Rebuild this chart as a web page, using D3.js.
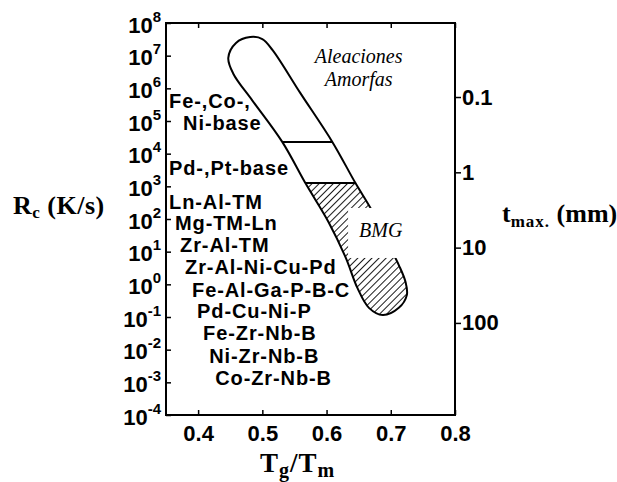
<!DOCTYPE html>
<html>
<head>
<meta charset="utf-8">
<title>Rc vs Tg/Tm</title>
<script src="https://d3js.org/d3.v7.min.js"></script>
<style>
    html, body {
        margin: 0;
        padding: 0;
        background: #fff;
    }
    svg {
        display: block;
    }
    .sans {
        font-family: 'Liberation Sans', Arial, sans-serif;
        font-weight: bold;
    }
    .serif {
        font-family: 'Liberation Serif', 'Times New Roman', serif;
    }
</style>
</head>
<body>
<svg id="chart" width="617" height="482"></svg>
<script>
// outline of the glass-forming band (Tg/Tm, log10 Rc), clockwise from the top
const outlineTg = [0.481, 0.500, 0.516, 0.559, 0.609, 0.645, 0.672, 0.697, 0.7125, 0.723, 0.725, 0.7125,
    0.6875, 0.666, 0.648, 0.630, 0.603, 0.567, 0.531, 0.484, 0.455, 0.447, 0.459];
const outlineLogRc = [7.57, 7.51, 7.17, 5.86, 4.36, 3.10, 2.21, 1.20, 0.59, 0.07, -0.33, -0.72,
    -0.94, -0.72, -0.11, 0.81, 1.91, 3.10, 4.36, 5.64, 6.44, 6.93, 7.39];
// boundaries between the families (log10 Rc); below the last one the band is hatched (BMG)
const dividerLogRc = [4.36, 3.10];

const xTicks = [0.4, 0.5, 0.6, 0.7, 0.8];
const rcExponents = [-4, -3, -2, -1, 0, 1, 2, 3, 4, 5, 6, 7, 8];
const tTicks = [0.1, 1, 10, 100];
const tDomain = [0.0104, 1670];

const alloyNames = ['Fe-,Co-,', 'Ni-base', 'Pd-,Pt-base', 'Ln-Al-TM', 'Mg-TM-Ln', 'Zr-Al-TM',
    'Zr-Al-Ni-Cu-Pd', 'Fe-Al-Ga-P-B-C', 'Pd-Cu-Ni-P', 'Fe-Zr-Nb-B', 'Ni-Zr-Nb-B', 'Co-Zr-Nb-B'];
const alloyTg = [0.3547, 0.3766, 0.3547, 0.3547, 0.364, 0.3719, 0.3797, 0.3906, 0.3984, 0.4078, 0.4172, 0.4266];
const alloyLogRc = [5.40, 4.725, 3.35, 2.31, 1.664, 0.99, 0.317, -0.387, -1.03, -1.70, -2.41, -3.08];

const margin = {top: 23, right: 162, bottom: 67, left: 166};
const width = 617, height = 482;
const svg = d3.select('#chart');

const x = d3.scaleLinear()
    .domain([0.35, 0.8])
    .range([margin.left, width - margin.right]);
const y = d3.scaleLog()
    .domain([1e-4, 1e8])
    .range([height - margin.bottom, margin.top]);
const yT = d3.scaleLog()
    .domain(tDomain)
    .range([margin.top, height - margin.bottom]);
const x0 = x.range()[0], x1 = x.range()[1];
const y0 = y.range()[0], y1 = y.range()[1];

// hatch pattern
const defs = svg.append('defs');
defs.append('pattern')
    .attr('id', 'hatch')
    .attr('patternUnits', 'userSpaceOnUse')
    .attr('width', 5)
    .attr('height', 5)
    .attr('patternTransform', 'rotate(45)')
    .append('line')
    .attr('x1', 0).attr('y1', 0)
    .attr('x2', 0).attr('y2', 5)
    .attr('stroke', '#000')
    .attr('stroke-width', 1.8);

const outline = outlineTg.map((t, i) => [t, outlineLogRc[i]]);
const bandLine = d3.line()
    .x(d => x(d[0]))
    .y(d => y(Math.pow(10, d[1])))
    .curve(d3.curveCatmullRomClosed.alpha(0.5));

defs.append('clipPath')
    .attr('id', 'band')
    .append('path')
    .attr('d', bandLine(outline));

const gBand = svg.append('g').attr('clip-path', 'url(#band)');
gBand.append('rect')
    .attr('x', x0)
    .attr('width', x1 - x0)
    .attr('y', y(Math.pow(10, d3.min(dividerLogRc))))
    .attr('height', y0 - y(Math.pow(10, d3.min(dividerLogRc))))
    .attr('fill', 'url(#hatch)');
gBand.selectAll('line.divider')
    .data(dividerLogRc)
    .join('line')
    .attr('class', 'divider')
    .attr('x1', x0)
    .attr('x2', x1)
    .attr('y1', d => y(Math.pow(10, d)))
    .attr('y2', d => y(Math.pow(10, d)))
    .attr('stroke', '#000')
    .attr('stroke-width', 2);

svg.append('path')
    .attr('d', bandLine(outline))
    .attr('fill', 'none')
    .attr('stroke', '#000')
    .attr('stroke-width', 2);

// BMG label on a white box
const bmg = svg.append('text')
    .attr('class', 'serif')
    .attr('x', x(0.6844))
    .attr('y', y(Math.pow(10, 1.45)))
    .attr('text-anchor', 'middle')
    .attr('font-size', 20)
    .attr('font-style', 'italic')
    .text('BMG');
const bb = bmg.node().getBBox();
svg.insert('rect', 'text')
    .attr('x', bb.x - 11)
    .attr('y', bb.y - 11)
    .attr('width', bb.width + 24)
    .attr('height', bb.height + 28)
    .attr('fill', '#fff');

svg.append('text')
    .attr('class', 'serif')
    .attr('text-anchor', 'middle')
    .attr('font-size', 20)
    .attr('font-style', 'italic')
    .selectAll('tspan')
    .data([['Aleaciones', 6.776], ['Amorfas', 6.07]])
    .join('tspan')
    .attr('x', x(0.65))
    .attr('y', d => y(Math.pow(10, d[1])))
    .text(d => d[0]);

// alloy family labels
svg.append('g')
    .selectAll('text')
    .data(alloyNames)
    .join('text')
    .attr('class', 'sans')
    .attr('font-size', 20)
    .attr('letter-spacing', 0.9)
    .attr('x', (d, i) => x(alloyTg[i]))
    .attr('y', (d, i) => y(Math.pow(10, alloyLogRc[i])))
    .text(d => d);

// frame
svg.append('rect')
    .attr('x', x0)
    .attr('y', y1)
    .attr('width', x1 - x0)
    .attr('height', y0 - y1)
    .attr('fill', 'none')
    .attr('stroke', '#000')
    .attr('stroke-width', 2);

// left axis: Rc
const gLeft = svg.append('g')
    .attr('transform', `translate(${x0},0)`)
    .call(d3.axisLeft(y)
        .tickValues(rcExponents.map(e => Math.pow(10, e)))
        .tickSize(-5)
        .tickFormat(''));
gLeft.select('.domain').remove();
gLeft.selectAll('.tick line').attr('stroke-width', 1.5);
gLeft.selectAll('.tick text').remove();
const rcLabels = gLeft.selectAll('.tick')
    .append('text')
    .attr('class', 'sans')
    .attr('x', -5)
    .attr('y', 9)
    .attr('fill', '#000')
    .attr('text-anchor', 'end')
    .attr('font-size', 22);
rcLabels.append('tspan').text('10');
rcLabels.append('tspan')
    .attr('dy', -11)
    .attr('font-size', 15)
    .text(d => Math.round(Math.log10(d)));

// bottom axis
const gBottom = svg.append('g')
    .attr('transform', `translate(0,${y0})`)
    .call(d3.axisBottom(x).tickValues(xTicks).tickSize(-5).tickPadding(10).tickFormat(d3.format('.1f')));
gBottom.select('.domain').remove();
gBottom.selectAll('.tick line').attr('stroke-width', 1.5);
gBottom.selectAll('.tick text')
    .attr('class', 'sans')
    .attr('font-size', 22)
    .attr('fill', '#000');

// top axis: ticks only
const gTop = svg.append('g')
    .attr('transform', `translate(0,${y1})`)
    .call(d3.axisTop(x).tickValues(xTicks).tickSize(-5).tickFormat(''));
gTop.select('.domain').remove();
gTop.selectAll('.tick line').attr('stroke-width', 1.5);

// right axis: t max
const gRight = svg.append('g')
    .attr('transform', `translate(${x1},0)`)
    .call(d3.axisRight(yT).tickValues(tTicks).tickSize(6).tickPadding(1).tickFormat(d => d));
gRight.select('.domain').remove();
gRight.selectAll('.tick line').attr('stroke-width', 1.5);
gRight.selectAll('.tick text')
    .attr('class', 'sans')
    .attr('font-size', 22)
    .attr('fill', '#000');

// axis titles
const rcTitle = svg.append('text')
    .attr('class', 'serif')
    .attr('font-weight', 'bold')
    .attr('font-size', 26)
    .attr('letter-spacing', 0.5)
    .attr('x', 13)
    .attr('y', 214);
rcTitle.append('tspan').text('R');
rcTitle.append('tspan').attr('font-size', 17).attr('dy', 4).text('c');
rcTitle.append('tspan').attr('dy', -4).text(' (K/s)');

const tTitle = svg.append('text')
    .attr('class', 'serif')
    .attr('font-weight', 'bold')
    .attr('font-size', 26)
    .attr('x', 502)
    .attr('y', 222);
tTitle.append('tspan').text('t');
tTitle.append('tspan').attr('font-size', 17).attr('dy', 5).attr('letter-spacing', 1).text('max.');
tTitle.append('tspan').attr('dy', -5).text(' (mm)');

const xTitle = svg.append('text')
    .attr('class', 'serif')
    .attr('font-weight', 'bold')
    .attr('font-size', 27)
    .attr('letter-spacing', 1)
    .attr('x', 260)
    .attr('y', 472);
xTitle.append('tspan').text('T');
xTitle.append('tspan').attr('font-size', 20).attr('dy', 5).text('g');
xTitle.append('tspan').attr('dy', -5).text('/T');
xTitle.append('tspan').attr('font-size', 20).attr('dy', 5).text('m');
</script>
</body>
</html>
